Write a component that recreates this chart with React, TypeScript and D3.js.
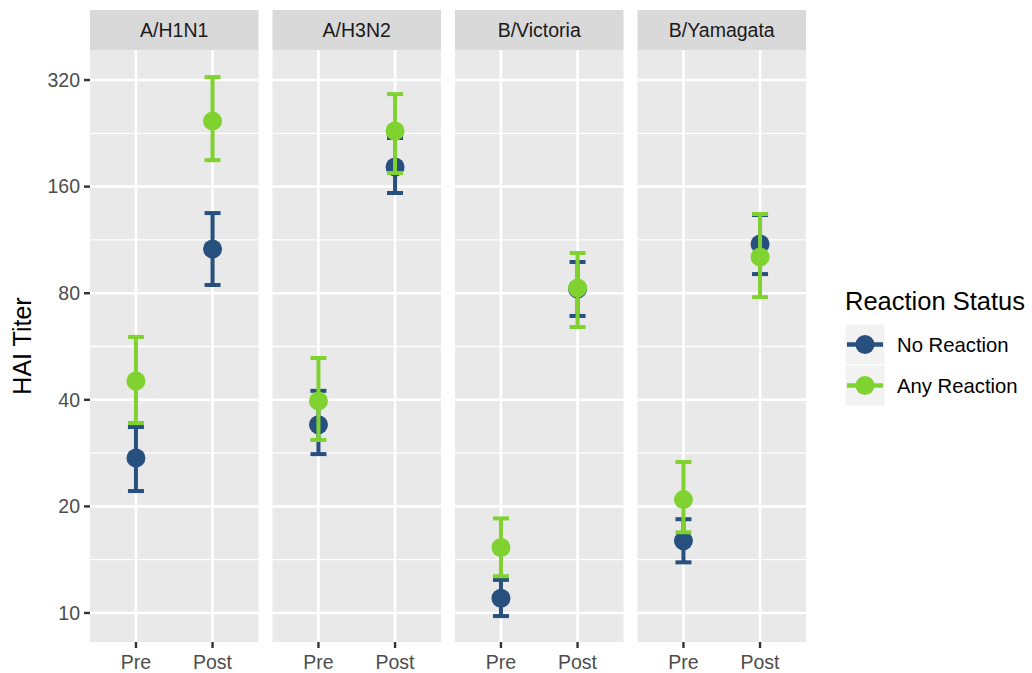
import * as d3 from 'd3'

// facets, x categories, groups
const strains = ['A/H1N1', 'A/H3N2', 'B/Victoria', 'B/Yamagata']
const timepoints = ['Pre', 'Post']
const groups = ['No Reaction', 'Any Reaction']

// geometric mean titers, [Pre, Post] per strain
const noReactionMean = [[27.4, 106.7], [34.0, 181.7], [11.0, 82.2], [16.0, 110.2]]
const noReactionLow = [[22.1, 84.4], [28.1, 153.5], [9.8, 69.0], [13.9, 90.6]]
const noReactionHigh = [[33.5, 134.7], [42.4, 219.5], [12.4, 98.0], [18.4, 133.0]]

const anyReactionMean = [[45.2, 245], [39.7, 229.7], [15.3, 82.8], [20.9, 101.2]]
const anyReactionLow = [[34.4, 190], [30.8, 174.8], [12.7, 64.2], [16.9, 78.0]]
const anyReactionHigh = [[60.2, 326], [52.5, 292], [18.5, 103.9], [26.7, 133.9]]

const yTicks = [10, 20, 40, 80, 160, 320]

const colors = ['#27507e', '#7fd230']

const W = 1032
const H = 673
const plotLeft = 90
const plotRight = 806
const panelGap = 14
const panelTop = 50
const panelBottom = 642
const stripTop = 10

export default function App() {
  const panelW = (plotRight - plotLeft - panelGap * 3) / strains.length
  const y = d3.scaleLog().base(2).domain([8.28, 389]).range([panelBottom, panelTop])
  const minorTicks = d3.pairs(yTicks).map(([a, b]) => Math.sqrt(a * b))

  const series = [
    { mean: noReactionMean, low: noReactionLow, high: noReactionHigh },
    { mean: anyReactionMean, low: anyReactionLow, high: anyReactionHigh }
  ]

  const font = 'Liberation Sans, Arial, Helvetica, sans-serif'
  const capW = 8

  return (
    <svg width={W} height={H} style={{ position: 'absolute', left: 0, top: 0 }} fontFamily={font}>
      <rect width={W} height={H} fill="#ffffff" />

      {/* y axis title */}
      <text
        transform={`translate(31,${(panelTop + panelBottom) / 2}) rotate(-90)`}
        textAnchor="middle"
        fontSize={25}
        fill="#000"
      >
        HAI Titer
      </text>

      {/* y axis ticks + labels */}
      {yTicks.map(t => (
        <g key={t}>
          <line x1={plotLeft - 6} x2={plotLeft} y1={y(t)} y2={y(t)} stroke="#333" strokeWidth={2.4} />
          <text x={plotLeft - 10} y={y(t)} dy="0.35em" textAnchor="end" fontSize={19.5} fill="#4d4d4d">
            {t}
          </text>
        </g>
      ))}

      {strains.map((s, si) => {
        const x0 = plotLeft + si * (panelW + panelGap)
        const x = d3.scalePoint().domain(timepoints).range([x0, x0 + panelW]).padding(0.6)
        return (
          <g key={s}>
            {/* strip */}
            <rect x={x0} y={stripTop} width={panelW} height={panelTop - stripTop} fill="#d9d9d9" />
            <text x={x0 + panelW / 2} y={(stripTop + panelTop) / 2} dy="0.35em" textAnchor="middle" fontSize={19.5} fill="#1a1a1a">
              {s}
            </text>

            {/* panel */}
            <rect x={x0} y={panelTop} width={panelW} height={panelBottom - panelTop} fill="#e9e9e9" />
            {minorTicks.map(t => (
              <line key={t} x1={x0} x2={x0 + panelW} y1={y(t)} y2={y(t)} stroke="#fff" strokeWidth={1.3} />
            ))}
            {yTicks.map(t => (
              <line key={t} x1={x0} x2={x0 + panelW} y1={y(t)} y2={y(t)} stroke="#fff" strokeWidth={2.6} />
            ))}
            {timepoints.map(tp => (
              <g key={tp}>
                <line x1={x(tp)} x2={x(tp)} y1={panelTop} y2={panelBottom} stroke="#fff" strokeWidth={2.6} />
                <line x1={x(tp)} x2={x(tp)} y1={panelBottom} y2={panelBottom + 6} stroke="#333" strokeWidth={2.4} />
                <text x={x(tp)} y={panelBottom + 20} dy="0.35em" textAnchor="middle" fontSize={19.5} fill="#4d4d4d">
                  {tp}
                </text>
              </g>
            ))}

            {/* error bars + points, group by group */}
            {series.map((ser, gi) => (
              <g key={gi}>
                {timepoints.map((tp, ti) => {
                  const cx = x(tp)!
                  const lo = y(ser.low[si][ti])
                  const hi = y(ser.high[si][ti])
                  return (
                    <g key={tp} stroke={colors[gi]} strokeWidth={4}>
                      <line x1={cx} x2={cx} y1={lo} y2={hi} />
                      <line x1={cx - capW} x2={cx + capW} y1={lo} y2={lo} />
                      <line x1={cx - capW} x2={cx + capW} y1={hi} y2={hi} />
                      <circle cx={cx} cy={y(ser.mean[si][ti])} r={9.5} fill={colors[gi]} stroke="none" />
                    </g>
                  )
                })}
              </g>
            ))}
          </g>
        )
      })}

      {/* legend */}
      <g transform="translate(845,0)">
        <text x={0} y={301} dy="0.35em" fontSize={25.5} fill="#000">
          Reaction Status
        </text>
        {groups.map((gname, gi) => {
          const ky = 324 + gi * 41
          return (
            <g key={gname}>
              <rect x={0} y={ky} width={40} height={41} fill="#f2f2f2" stroke="#fff" strokeWidth={1} />
              <line x1={2} x2={38} y1={ky + 20.5} y2={ky + 20.5} stroke={colors[gi]} strokeWidth={4.5} />
              <circle cx={20} cy={ky + 20.5} r={9.5} fill={colors[gi]} />
              <text x={52} y={ky + 20.5} dy="0.35em" fontSize={20.3} fill="#000">
                {gname}
              </text>
            </g>
          )
        })}
      </g>
    </svg>
  )
}
